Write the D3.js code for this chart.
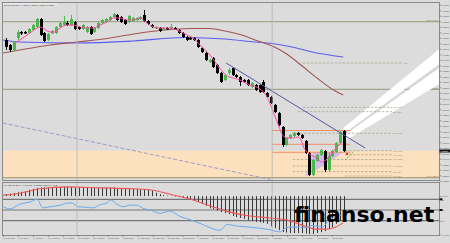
<!DOCTYPE html>
<html><head><meta charset="utf-8">
<script src="https://cdn.jsdelivr.net/npm/d3@7/dist/d3.min.js"></script>
<style>body{margin:0;background:#dcdcdc}svg{display:block}text{font-family:"Liberation Sans",Arial,sans-serif}</style>
</head><body><svg id="c" width="450" height="243"></svg>
<script>
// ---------- DATA ----------
const opens  = [1.3630,1.3580,1.3530,1.3650,1.3710,1.3710,1.3700,1.3730,1.3760,1.3840,1.3700,1.3630,1.3695,1.3700,1.3760,1.3780,1.3800,1.3780,1.3810,1.3760,1.3740,1.3710,1.3760,1.3710,1.3750,1.3800,1.3810,1.3830,1.3860,1.3880,1.3860,1.3830,1.3810,1.3820,1.3830,1.3840,1.3880,1.3820,1.3780,1.3745,1.3750,1.3730,1.3750,1.3745,1.3750,1.3730,1.3700,1.3660,1.3650,1.3650,1.3630,1.3550,1.3500,1.3410,1.3450,1.3380,1.3300,1.3230,1.3300,1.3350,1.3280,1.3260,1.3230,1.3230,1.3160,1.3180,1.3180,1.3210,1.3100,1.3060,1.2980,1.2900,1.2760,1.2580,1.2650,1.2670,1.2700,1.2680,1.2620,1.2500,1.2280,1.2420,1.2480,1.2520,1.2330,1.2470,1.2510,1.2600,1.2720];
const highs  = [1.3650,1.3590,1.3620,1.3730,1.3720,1.3720,1.3750,1.3790,1.3850,1.3850,1.3710,1.3700,1.3730,1.3770,1.3810,1.3870,1.3820,1.3880,1.3820,1.3770,1.3790,1.3770,1.3770,1.3760,1.3810,1.3840,1.3850,1.3870,1.3900,1.3890,1.3870,1.3840,1.3880,1.3860,1.3860,1.3870,1.3930,1.3830,1.3790,1.3770,1.3760,1.3760,1.3760,1.3790,1.3760,1.3740,1.3710,1.3670,1.3660,1.3660,1.3640,1.3560,1.3510,1.3440,1.3460,1.3390,1.3310,1.3290,1.3350,1.3360,1.3290,1.3270,1.3240,1.3240,1.3210,1.3190,1.3190,1.3230,1.3110,1.3070,1.2990,1.2910,1.2770,1.2660,1.2690,1.2710,1.2710,1.2690,1.2630,1.2510,1.2440,1.2490,1.2540,1.2530,1.2500,1.2530,1.2610,1.2720,1.2730];
const lows   = [1.3530,1.3510,1.3520,1.3630,1.3680,1.3690,1.3690,1.3720,1.3750,1.3670,1.3610,1.3620,1.3690,1.3690,1.3750,1.3770,1.3770,1.3770,1.3730,1.3730,1.3730,1.3700,1.3680,1.3700,1.3740,1.3790,1.3800,1.3820,1.3850,1.3820,1.3800,1.3780,1.3800,1.3810,1.3820,1.3830,1.3810,1.3780,1.3750,1.3740,1.3710,1.3720,1.3730,1.3740,1.3730,1.3690,1.3650,1.3620,1.3630,1.3620,1.3550,1.3500,1.3420,1.3400,1.3350,1.3290,1.3200,1.3220,1.3280,1.3270,1.3250,1.3170,1.3200,1.3170,1.3150,1.3120,1.3100,1.3100,1.3050,1.2990,1.2900,1.2770,1.2560,1.2570,1.2640,1.2660,1.2670,1.2640,1.2490,1.2270,1.2270,1.2410,1.2470,1.2310,1.2310,1.2460,1.2500,1.2590,1.2510];
const closes = [1.3560,1.3530,1.3610,1.3710,1.3695,1.3695,1.3740,1.3780,1.3840,1.3680,1.3620,1.3690,1.3720,1.3760,1.3800,1.3810,1.3780,1.3840,1.3740,1.3740,1.3780,1.3760,1.3690,1.3750,1.3800,1.3830,1.3840,1.3860,1.3890,1.3830,1.3810,1.3790,1.3870,1.3850,1.3850,1.3860,1.3820,1.3790,1.3760,1.3760,1.3720,1.3750,1.3735,1.3760,1.3735,1.3700,1.3660,1.3630,1.3635,1.3630,1.3560,1.3510,1.3430,1.3430,1.3360,1.3300,1.3210,1.3280,1.3330,1.3280,1.3260,1.3210,1.3210,1.3180,1.3200,1.3130,1.3110,1.3110,1.3060,1.3000,1.2910,1.2780,1.2580,1.2650,1.2680,1.2700,1.2680,1.2650,1.2500,1.2280,1.2430,1.2480,1.2530,1.2330,1.2470,1.2520,1.2600,1.2710,1.2520];

// moving averages: [bar index, price]
const maFast = [[2.3,1.360],[3.6,1.363],[6.25,1.370],[8.1,1.375],[8.9,1.376],[11.5,1.371],[12.8,1.371],[14.1,1.375],[15.9,1.378],[17.4,1.378],[19.3,1.376],[21.1,1.375],[22.7,1.375],[24.5,1.378],[26.3,1.381],[27.9,1.385],[29.7,1.385],[31.5,1.383],[33.1,1.383],[34.9,1.385],[36.7,1.380],[39.3,1.375],[41.9,1.375],[44.5,1.373],[47.1,1.368],[48.7,1.365],[50.5,1.358],[53.1,1.348],[55.2,1.337],[56.5,1.331],[57.6,1.327],[59.1,1.325],[60.9,1.323],[63.5,1.318],[66.1,1.314],[68,1.306],[69,1.297],[70,1.287],[71,1.277],[72,1.268],[73.4,1.265],[74.7,1.265],[76,1.266],[76.8,1.263],[77.6,1.255],[78.6,1.250],[80.5,1.246],[82.3,1.241],[83.6,1.244],[84.9,1.250],[86.2,1.256],[87.5,1.261]];
const maSlow = [[-0.78,1.350],[3.6,1.353],[11.5,1.358],[18.5,1.361],[27.1,1.365],[34.9,1.370],[41.4,1.373],[47.9,1.3745],[53.1,1.3745],[57,1.372],[62.2,1.367],[65.6,1.362],[69.3,1.357],[72.7,1.350],[77.1,1.337],[81.3,1.324],[85.7,1.312],[87.8,1.308]];
const maLong = [[-0.78,1.363],[3.6,1.361],[18.5,1.360],[33.1,1.362],[46.6,1.3655],[57,1.364],[64.8,1.361],[69.3,1.3595],[74.5,1.356],[79.7,1.351],[87.8,1.346]];

// objects
const trendLine  = [[57.3,1.340],[93.5,1.255]];
const dashedLine = [[-0.8,1.280],[68.8,1.2235]];
const vLines = [18.5, 69.3];
const zoneTop = 1.2523, zoneBottom = 1.2253;
const levelPrices = [1.3813, 1.3137, 1.2253];
const levelNames  = ["R2  1.3813", "R1  1.3137", "S1  1.2253"];
const fibPrices = [1.3400,1.2957,1.2913,1.2697,1.2523,1.2483,1.2435,1.2370,1.2313,1.2270];
const fibStart  = [77.3,77.3,76.0,74.5,88.3,88.3,74.7,74.7,74.7,88.3];
const fibEnd    = [103.4,100.5,100.5,100.5,100.5,100.5,100.5,100.5,100.5,100.5];
const fibNames  = ["R1","FU1.00P","D1.00P","FL1.00P","FU1.00P","FL1.00P","FU0.50P","FL0.50P","S1.00P","S1.00T"];
const boxPrices = [1.2725, 1.2587, 1.2507];
const boxStart = 69.3, boxEnd = 89.6;
const triangle = [[77.9,1.226],[80,1.251],[88,1.251]];
// channel stripes: [start bar, end bar], each edge as [price at start, price at end]
const chanBars = [87.8, 112.8];
const chanUpper = [[1.2750,1.3540],[1.2690,1.3390]];
const chanLower = [[1.2670,1.3350],[1.2610,1.3190]];
const redMark = [88.8,1.249];
const greenArrow = [[88.3,1.243],[90.4,1.251]];

// sub window
const macdHist = [0.0004,0.0005,0.0006,0.0008,0.0009,0.0010,0.0013,0.0015,0.0017,0.0018,0.0018,0.0018,0.0018,0.0019,0.0019,0.0019,0.0019,0.0019,0.0018,0.0018,0.0018,0.0017,0.0017,0.0017,0.0017,0.0018,0.0018,0.0018,0.0018,0.0017,0.0016,0.0016,0.0016,0.0015,0.0015,0.0014,0.0014,0.0013,0.0011,0.0007,0.0004,0.0002,0.0001,0.00003,-0.0001,-0.0002,-0.0004,-0.0006,-0.0008,-0.0010,-0.0012,-0.0016,-0.0020,-0.0025,-0.0027,-0.0030,-0.0033,-0.0035,-0.0037,-0.0041,-0.0043,-0.0045,-0.0047,-0.0049,-0.0051,-0.0053,-0.0054,-0.0055,-0.0057,-0.0062,-0.0066,-0.0070,-0.0074,-0.0075,-0.0076,-0.0076,-0.0076,-0.0076,-0.0077,-0.0078,-0.0078,-0.0076,-0.0074,-0.0072,-0.0068,-0.0064,-0.0057,-0.0051,-0.0045];
const macdSignal = [[-0.8,0.0002],[3.6,0.0006],[8.9,0.0015],[15.9,0.0019],[24.5,0.0017],[33.1,0.0015],[37.5,0.0013],[42.7,0.0004],[47.9,-0.0006],[53.1,-0.0020],[58.3,-0.0033],[63.5,-0.0041],[68.75,-0.0045],[74,-0.0051],[77.9,-0.0062],[80.5,-0.0068],[83.1,-0.0068],[85.7,-0.0064],[87.8,-0.0055]];
const rsiLine = [[-1.6,60],[1,52],[3.6,61],[6.25,65],[8.1,70],[9.6,54],[11.5,56],[14.1,59],[15.9,63],[17.2,63],[18.75,56],[21.4,55],[22.7,54],[24.5,60],[26.3,63],[27.1,69],[28.9,61],[30.5,56],[32.3,59],[34.1,59],[35.7,53],[37.5,50],[40.1,44],[42.7,48],[45.3,38],[47.9,32],[50.5,25],[53.1,17],[55.7,12],[57.6,23],[60.2,20],[63.5,18],[66.1,16],[68.75,13],[71.4,9],[72.7,16],[74.5,18],[76.6,18],[77.9,17],[79.7,21],[82.3,18],[83.9,29],[85.7,37],[87.5,41]];
const rsiLevels = [70, 50, 30];
const macdTicks = [0, -0.0079];

// axis labels
const priceTicks = [1.3983,1.3928,1.3873,1.3818,1.3763,1.3708,1.3653,1.3598,1.3543,1.3488,1.3433,1.3378,1.3323,1.3268,1.3213,1.3158,1.3103,1.3048,1.2993,1.2938,1.2883,1.2828,1.2773,1.2718,1.2663,1.2608,1.2553,1.2498,1.2443,1.2388,1.2333,1.2278,1.2223];
const dateLabels = ["26 Mar 2014","1 Apr 2014","7 Apr 2014","10 Apr 2014","16 Apr 2014","23 Apr 2014","29 Apr 2014","5 May 2014","8 May 2014","14 May 2014","20 May 2014","26 May 2014","29 May 2014","4 Jun 2014","10 Jun 2014","13 Jun 2014","19 Jun 2014","25 Jun 2014","1 Jul 2014","4 Jul 2014","10 Jul 2014","16 Jul 2014","22 Jul 2014"];
const mainTitle = "EURUSD,Daily  1.2517 1.2527 1.2508 1.2520";
const subTitle = "MACD(12,26,9) -0.00451 -0.00554  RSI(14) 41.2";
const watermark = "finanso.net";

// ---------- DRAW ----------
const svg = d3.select('#c');
const L = 3, R = 439, T = 3, MB = 180.5, ST = 183, SB = 235.5;
const x = d3.scaleLinear().domain([0, 88]).range([6, 344]);
const y = d3.scaleLinear().domain([1.403, 1.223]).range([0, 180]);
const yM = d3.scaleLinear().domain([-0.0080, 0.0028]).range([235, 182.5]);
const yR = d3.scaleLinear().domain([0, 100]).range([236.75, 183.25]);
const xd = d3.scalePoint().domain(dateLabels).range([3, 332]);
const FS = 2.5;

svg.append('rect').attr('width',450).attr('height',243).attr('fill','#dcdcdc');
const defs = svg.append('defs');
defs.append('clipPath').attr('id','cm').append('rect').attr('x',L).attr('y',T).attr('width',R-L).attr('height',MB-T);
defs.append('clipPath').attr('id','cs').append('rect').attr('x',L).attr('y',ST).attr('width',R-L).attr('height',SB-ST);

const gm = svg.append('g').attr('clip-path','url(#cm)');
const gs = svg.append('g').attr('clip-path','url(#cs)');

// zone
gm.append('rect').attr('x',L).attr('width',R-L).attr('y',y(zoneTop)).attr('height',y(zoneBottom)-y(zoneTop)).attr('fill','#fde1bf');

// solid levels
levelPrices.forEach((p,i)=>{
  gm.append('line').attr('x1',L).attr('x2',R).attr('y1',y(p)).attr('y2',y(p))
    .attr('stroke', i===2 ? '#b0a07a' : '#9ea88c').attr('stroke-width',1.2);
  gm.append('text').attr('x',R-1).attr('y',y(p)-0.8).attr('text-anchor','end')
    .attr('font-size',FS).attr('fill','#7c8466').text(levelNames[i]);
});

// vertical lines
vLines.forEach(v=>{
  svg.append('line').attr('x1',x(v)).attr('x2',x(v)).attr('y1',T).attr('y2',SB).attr('stroke','#b4b4b4').attr('stroke-width',0.8);
});

// channel stripes
[chanUpper, chanLower].forEach(s=>{
  const pts = [[chanBars[0],s[0][0]],[chanBars[1],s[0][1]],[chanBars[1],s[1][1]],[chanBars[0],s[1][0]]];
  gm.append('polygon').attr('points',pts.map(d=>[x(d[0]),y(d[1])]).join(' ')).attr('fill','#ffffff');
});
gm.append('line').attr('x1',x(chanBars[0])).attr('x2',x(chanBars[1]))
  .attr('y1',y((chanUpper[1][0]+chanLower[0][0])/2)).attr('y2',y((chanUpper[1][1]+chanLower[0][1])/2))
  .attr('stroke','#cfcfcf').attr('stroke-width',0.7);

// dashed diagonal
gm.append('line').attr('x1',x(dashedLine[0][0])).attr('y1',y(dashedLine[0][1])).attr('x2',x(dashedLine[1][0])).attr('y2',y(dashedLine[1][1]))
  .attr('stroke','#9c9cc8').attr('stroke-width',1).attr('stroke-dasharray','4,2');

// fib dashed lines
fibPrices.forEach((p,i)=>{
  gm.append('line').attr('x1',x(fibStart[i])).attr('x2',x(fibEnd[i])).attr('y1',y(p)).attr('y2',y(p))
    .attr('stroke','#aaa88e').attr('stroke-width',0.8).attr('stroke-dasharray','2.5,1.5');
  gm.append('text').attr('x',x(fibEnd[i])+1).attr('y',y(p)+0.8).attr('font-size',FS).attr('fill','#8f8d70').text(fibNames[i]);
});

// triangle
gm.append('polygon').attr('points',triangle.map(d=>[x(d[0]),y(d[1])]).join(' ')).attr('fill','#c9b4ef').attr('opacity',0.85);

// box lines
boxPrices.forEach(p=>{
  gm.append('line').attr('x1',x(boxStart)).attr('x2',x(boxEnd)).attr('y1',y(p)).attr('y2',y(p)).attr('stroke','#f2906a').attr('stroke-width',1);
});

// MAs
const ln = d3.line().x(d=>x(d[0])).y(d=>y(d[1])).curve(d3.curveMonotoneX);
gm.append('path').attr('d',ln(maLong)).attr('fill','none').attr('stroke','#5c5cf0').attr('stroke-width',1.1);
gm.append('path').attr('d',ln(maSlow)).attr('fill','none').attr('stroke','#a25454').attr('stroke-width',1.1);

// candles
const cg = gm.append('g');
opens.forEach((o,i)=>{
  const c = closes[i], bull = c>o, col = bull ? '#4cb84c' : '#000000';
  const cx = Math.round(x(i));
  cg.append('line').attr('x1',cx+0.5).attr('x2',cx+0.5).attr('y1',y(highs[i])).attr('y2',y(lows[i])).attr('stroke',col).attr('stroke-width',1);
  const top = y(Math.max(o,c)), bot = y(Math.min(o,c));
  cg.append('rect').attr('x',cx-1).attr('width',3).attr('y',top).attr('height',Math.max(1,bot-top)).attr('fill',col);
});

gm.append('path').attr('d',ln(maFast)).attr('fill','none').attr('stroke','#ff48a8').attr('stroke-width',1);
gm.append('line').attr('x1',x(trendLine[0][0])).attr('y1',y(trendLine[0][1])).attr('x2',x(trendLine[1][0])).attr('y2',y(trendLine[1][1]))
  .attr('stroke','#5656a8').attr('stroke-width',1);
gm.append('line').attr('x1',x(greenArrow[0][0])).attr('y1',y(greenArrow[0][1])).attr('x2',x(greenArrow[1][0])).attr('y2',y(greenArrow[1][1]))
  .attr('stroke','#7cbc3c').attr('stroke-width',1).attr('stroke-dasharray','2,1');
gm.append('rect').attr('x',x(redMark[0])-1).attr('y',y(redMark[1])-1).attr('width',2).attr('height',2).attr('fill','#e03030');

gm.append('rect').attr('x',L).attr('y',T).attr('width',55).attr('height',3.2).attr('fill','#e6e6e6');
gm.append('text').attr('x',4).attr('y',5.6).attr('font-size',FS).attr('fill','#333').text(mainTitle);

// sub window
rsiLevels.forEach(v=>{
  gs.append('line').attr('x1',L).attr('x2',R).attr('y1',yR(v)).attr('y2',yR(v)).attr('stroke','#757575').attr('stroke-width',1.2);
});
macdHist.forEach((v,i)=>{
  const cx = Math.round(x(i))+0.5;
  gs.append('line').attr('x1',cx).attr('x2',cx).attr('y1',yM(0)).attr('y2',yM(v)).attr('stroke','#383838').attr('stroke-width',1);
});
const lnM = d3.line().x(d=>x(d[0])).y(d=>yM(d[1])).curve(d3.curveMonotoneX);
const lnR = d3.line().x(d=>x(d[0])).y(d=>yR(d[1])).curve(d3.curveMonotoneX);
gs.append('path').attr('d',lnM(macdSignal)).attr('fill','none').attr('stroke','#f05454').attr('stroke-width',1.1);
gs.append('path').attr('d',lnR(rsiLine)).attr('fill','none').attr('stroke','#6aaaf0').attr('stroke-width',1);
gs.append('text').attr('x',4).attr('y',186.2).attr('font-size',FS).attr('fill','#333').text(subTitle);

// frames
svg.append('rect').attr('x',L-0.5).attr('y',T-0.5).attr('width',R-L+1).attr('height',MB-T+0.5).attr('fill','none').attr('stroke','#8a8a8a').attr('stroke-width',1);
svg.append('rect').attr('x',L-0.5).attr('y',ST-0.5).attr('width',R-L+1).attr('height',SB-ST+0.5).attr('fill','none').attr('stroke','#8a8a8a').attr('stroke-width',1);

// right price axis
function styleAxis(g){
  g.select('.domain').remove();
  g.selectAll('text').attr('font-size',FS).attr('fill','#555');
  g.selectAll('line').attr('stroke','#777');
}
svg.append('g').attr('transform',`translate(${R+0.5},0)`)
  .call(d3.axisRight(y).tickValues(priceTicks).tickSize(1.2).tickPadding(0.6).tickFormat(d3.format('.4f'))).call(styleAxis);
// current price marker
const last = closes[closes.length-1];
svg.append('rect').attr('x',R+0.5).attr('y',y(last)-1.5).attr('width',10.5).attr('height',3).attr('fill','#111');
svg.append('text').attr('x',R+1.5).attr('y',y(last)+0.9).attr('font-size',FS).attr('fill','#fff').text(last.toFixed(4));

// sub axis
svg.append('g').attr('transform',`translate(${R+0.5},0)`)
  .call(d3.axisRight(yR).tickValues(rsiLevels).tickSize(1.2).tickPadding(0.6)).call(styleAxis);
[70,50].forEach(v=>svg.append('rect').attr('x',R+0.5).attr('y',yR(v)-1).attr('width',3).attr('height',2).attr('fill','#111'));
svg.append('g').attr('transform',`translate(${R+0.5},0)`)
  .call(d3.axisRight(yM).tickValues(macdTicks).tickSize(1.2).tickPadding(0.6).tickFormat(d3.format('.3f'))).call(styleAxis);

// date axis
const axd = svg.append('g').attr('transform',`translate(0,${SB})`)
  .call(d3.axisBottom(xd).tickSize(1.2).tickPadding(0.6)).call(styleAxis);
axd.selectAll('text').attr('font-size',2.1).attr('text-anchor','start');

// watermark
svg.append('text').attr('x',294).attr('y',222).attr('font-size',22).attr('font-weight','bold')
  .style('font-family','"DejaVu Sans",sans-serif').attr('fill','#000').text(watermark);
</script></body></html>
